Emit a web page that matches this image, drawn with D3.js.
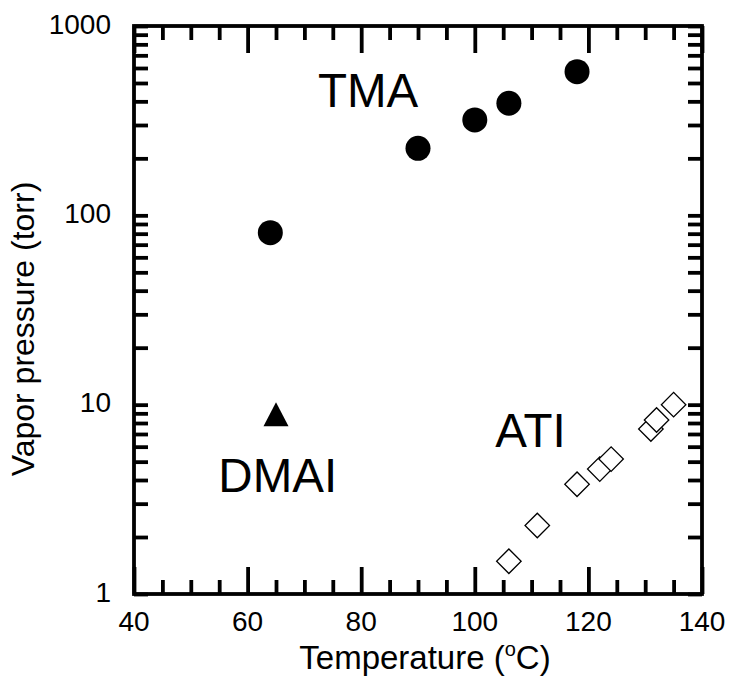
<!DOCTYPE html>
<html>
<head>
<meta charset="utf-8">
<script src="https://cdn.jsdelivr.net/npm/d3@7"></script>
<style>
  html, body { margin: 0; padding: 0; background: #fff; }
  svg { display: block; font-family: "Liberation Sans", Arial, Helvetica, sans-serif; }
</style>
</head>
<body>
<svg id="chart" width="729" height="681"></svg>
<script>
// Vapor pressure vs. temperature for three aluminium precursors
const tmaTemp = [64, 90, 100, 106, 118];
const tmaPressure = [81, 226, 319, 391, 574];

const dmaiTemp = [65];
const dmaiPressure = [8.9];

const atiTemp = [106, 111, 118, 122, 124, 131, 132, 135];
const atiPressure = [1.49, 2.30, 3.80, 4.57, 5.16, 7.44, 8.3, 10.0];

const xMajorTicks = [40, 60, 80, 100, 120, 140];
const yMajorTicks = [1, 10, 100, 1000];

const seriesLabels = [
  { text: "TMA", t: 81.2, p: 373 },
  { text: "DMAI", t: 65.3, p: 3.46 },
  { text: "ATI", t: 109.8, p: 5.98 }
];

const svg = d3.select("#chart");
const plot = { left: 134, right: 702, top: 26, bottom: 594 };

const x = d3.scaleLinear().domain([40, 140]).range([plot.left, plot.right]);
const y = d3.scaleLog().domain([1, 1000]).range([plot.bottom, plot.top]);

const axisStroke = 3.8;
const minorLen = 14, majorLen = 27;

// minor x ticks every 5 degrees, major every 20
const xMinor = d3.range(40, 141, 5).filter(v => v % 20 !== 0);
const yTicks = [];
for (const d of [1, 10, 100]) for (let k = 1; k <= 9; k++) yTicks.push(d * k);
yTicks.push(1000);

function styleAxis(g) {
  g.select(".domain").remove();
  g.selectAll(".tick line").attr("stroke", "#000").attr("stroke-width", axisStroke);
  g.selectAll(".tick text").remove();
}

// inward ticks on all four sides
svg.append("g").attr("transform", `translate(0,${plot.bottom})`)
  .call(d3.axisBottom(x).tickValues(xMinor).tickSize(-minorLen)).call(styleAxis);
svg.append("g").attr("transform", `translate(0,${plot.bottom})`)
  .call(d3.axisBottom(x).tickValues(xMajorTicks).tickSize(-majorLen)).call(styleAxis);
svg.append("g").attr("transform", `translate(0,${plot.top})`)
  .call(d3.axisTop(x).tickValues(xMinor).tickSize(-minorLen)).call(styleAxis);
svg.append("g").attr("transform", `translate(0,${plot.top})`)
  .call(d3.axisTop(x).tickValues(xMajorTicks).tickSize(-majorLen)).call(styleAxis);
svg.append("g").attr("transform", `translate(${plot.left},0)`)
  .call(d3.axisLeft(y).tickValues(yTicks).tickSize(-minorLen)).call(styleAxis);
svg.append("g").attr("transform", `translate(${plot.right},0)`)
  .call(d3.axisRight(y).tickValues(yTicks).tickSize(-minorLen)).call(styleAxis);

// frame
svg.append("rect")
  .attr("x", plot.left).attr("y", plot.top)
  .attr("width", plot.right - plot.left).attr("height", plot.bottom - plot.top)
  .attr("fill", "none").attr("stroke", "#000").attr("stroke-width", axisStroke);

// tick labels
const tickFont = 28;
svg.append("g").selectAll("text").data(xMajorTicks).join("text")
  .attr("x", d => x(d)).attr("y", plot.bottom + 37)
  .attr("text-anchor", "middle").attr("font-size", tickFont)
  .text(d => d);
svg.append("g").selectAll("text").data(yMajorTicks).join("text")
  .attr("x", plot.left - 23).attr("y", d => y(d) + 7.5)
  .attr("text-anchor", "end").attr("font-size", tickFont)
  .text(d => d);

// axis titles
const xTitle = svg.append("text")
  .attr("x", 425).attr("y", 669)
  .attr("text-anchor", "middle").attr("font-size", 33);
xTitle.append("tspan").text("Temperature (");
xTitle.append("tspan").attr("font-size", 20).attr("dy", -13).text("o");
xTitle.append("tspan").attr("dy", 13).text("C)");

svg.append("text")
  .attr("transform", `translate(34,${329}) rotate(-90)`)
  .attr("text-anchor", "middle").attr("font-size", 32)
  .text("Vapor pressure (torr)");

// TMA: filled circles
svg.append("g").selectAll("circle").data(tmaTemp).join("circle")
  .attr("cx", (d, i) => x(d)).attr("cy", (d, i) => y(tmaPressure[i]))
  .attr("r", 12.5).attr("fill", "#000");

// DMAI: filled triangle, bounding box centred on the point
const triangleShape = {
  draw(ctx, size) {
    const w = Math.sqrt(size) / 2, h = w * 0.96;
    ctx.moveTo(0, -h);
    ctx.lineTo(w, h);
    ctx.lineTo(-w, h);
    ctx.closePath();
  }
};
svg.append("g").selectAll("path").data(dmaiTemp).join("path")
  .attr("transform", (d, i) => `translate(${x(d)},${y(dmaiPressure[i])})`)
  .attr("d", d3.symbol().type(triangleShape).size(625)).attr("fill", "#000");

// ATI: open diamonds
svg.append("g").selectAll("path").data(atiTemp).join("path")
  .attr("transform", (d, i) => `translate(${x(d)},${y(atiPressure[i])}) rotate(45)`)
  .attr("d", d3.symbol().type(d3.symbolSquare).size(300))
  .attr("fill", "#fff").attr("stroke", "#000").attr("stroke-width", 1.3);

// series names
svg.append("g").selectAll("text").data(seriesLabels).join("text")
  .attr("x", d => x(d.t)).attr("y", d => y(d.p))
  .attr("text-anchor", "middle").attr("font-size", 47.5)
  .text(d => d.text);
</script>
</body>
</html>
